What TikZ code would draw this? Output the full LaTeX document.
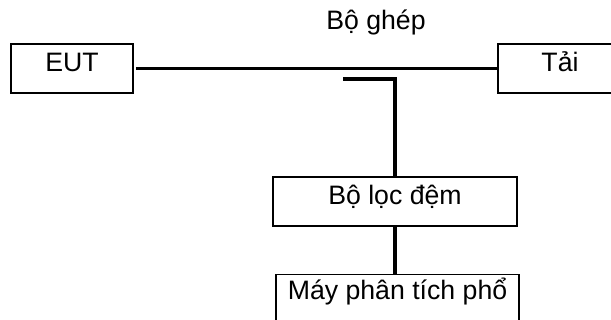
\documentclass[tikz,border=0pt]{standalone}
\usepackage{fontspec}
\setmainfont{Liberation Sans}
\usepackage{tikz}
\usetikzlibrary{positioning}

\begin{document}
\begin{tikzpicture}[
  x=0.75pt, y=-0.75pt,
  every node/.style={font=\fontsize{20}{24}\selectfont},
  box/.style={rectangle, draw, line width=1.2pt, inner xsep=0pt, inner ysep=0pt,
    text height=21pt, text depth=15.75pt},
  wire/.style={line width=2.4pt}
]
\useasboundingbox (0,0) rectangle (611,320);
\clip (0,0) rectangle (611,320);
\node [box, minimum width=91.5pt] (eut) at (72,68.5) {EUT};
\node [box, minimum width=93pt] (tai) at (560,68.5) {Tải};
\node [anchor=base] (ghep) at (376,30) {Bộ ghép};
\node [box, minimum width=183pt] (loc) at (395,201.5) {Bộ lọc đệm};
\node [box, minimum width=182.25pt, text height=19pt] (may) at (397.5,297.5) {Máy phân tích phổ};
\coordinate (cpl) at (343,79);
\draw [wire, shorten <=2pt] (eut.east) -- (tai.west);
\draw [wire] (cpl) -| (loc.north);
\draw [wire] (loc.south) -- (loc.south |- may.north);
\end{tikzpicture}
\end{document}
